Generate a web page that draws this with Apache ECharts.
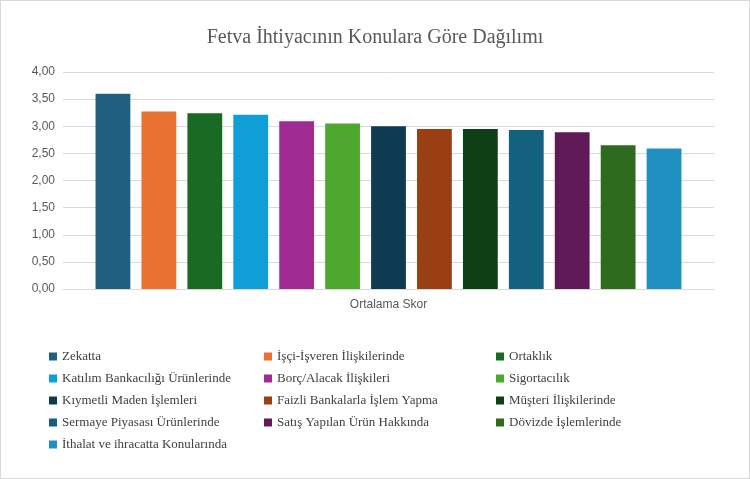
<!DOCTYPE html>
<html><head><meta charset="utf-8">
<script src="https://cdn.jsdelivr.net/npm/echarts@6/dist/echarts.min.js"></script>
<style>html,body{margin:0;padding:0;background:#fff}#c{width:750px;height:479px;box-sizing:border-box;border:1px solid #d9d9d9}</style>
</head><body><div id="c"></div>
<script>
const categories = ['Ortalama Skor'];
const seriesNames = ['Zekatta','İşçi-İşveren İlişkilerinde','Ortaklık','Katılım Bankacılığı Ürünlerinde','Borç/Alacak İlişkileri','Sigortacılık','Kıymetli Maden İşlemleri','Faizli Bankalarla İşlem Yapma','Müşteri İlişkilerinde','Sermaye Piyasası Ürünlerinde','Satış Yapılan Ürün Hakkında','Dövizde İşlemlerinde','İthalat ve ihracatta Konularında'];
const values = [3.60,3.27,3.24,3.21,3.09,3.05,3.00,2.95,2.95,2.93,2.89,2.65,2.59];
const colors = ['#1f5f7f','#e97132','#196b24','#0f9ed5','#a02b93','#4ea72e','#0e3a52','#9a3f13','#0f4015','#13607f','#5f1a57','#2e6b1f','#1f90c0'];
const yTicks = {min:0,max:4,interval:0.5};
const chart = echarts.init(document.getElementById('c'));
const legendCol = (idx, left) => ({
  orient:'vertical', left:left, top:344, itemGap:9, itemWidth:8, itemHeight:8, icon:'rect',
  textStyle:{fontFamily:'Liberation Serif',fontSize:13,color:'#404040'},
  data: seriesNames.filter((_,i)=>i%3===idx)
});
chart.setOption({
  animation:false,
  color:colors,
  title:{text:'Fetva İhtiyacının Konulara Göre Dağılımı',left:'center',top:22,
    textStyle:{fontFamily:'Liberation Serif',fontSize:20,fontWeight:'normal',color:'#595959'}},
  grid:{left:62,right:35,top:71,bottom:189},
  xAxis:{type:'category',data:categories,axisTick:{show:false},
    axisLine:{lineStyle:{color:'#d9d9d9'}},
    axisLabel:{fontFamily:'Liberation Sans',fontSize:12,color:'#595959',margin:10}},
  yAxis:{type:'value',min:yTicks.min,max:yTicks.max,interval:yTicks.interval,
    axisLabel:{formatter:v=>v.toFixed(2).replace('.',','),fontFamily:'Liberation Sans',fontSize:12,color:'#595959'},
    splitLine:{lineStyle:{color:'#d9d9d9'}},axisLine:{show:false}},
  legend:[legendCol(0,43),legendCol(1,258),legendCol(2,490)],
  series: seriesNames.map((n,i)=>({name:n,type:'bar',data:[values[i]],barGap:'32%',barCategoryGap:'10%'}))
});
</script></body></html>
